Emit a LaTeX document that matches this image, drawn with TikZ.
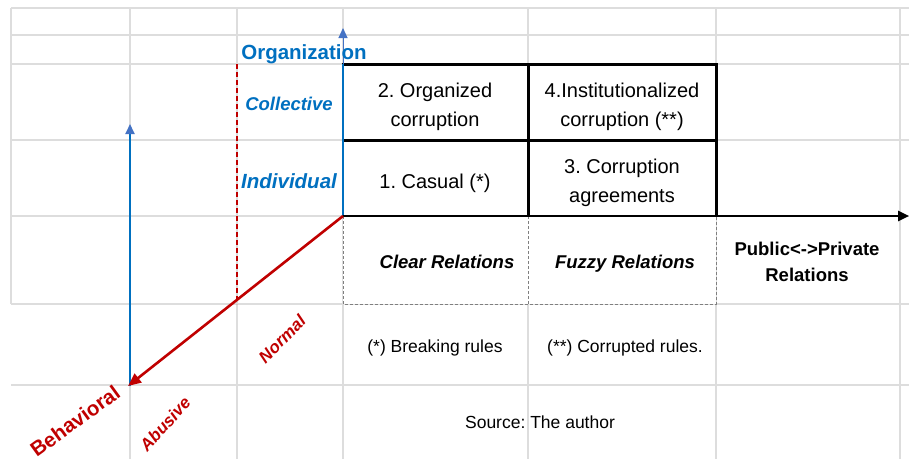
\documentclass[tikz,border=0pt]{standalone}
\usepackage{fontspec}
\setmainfont{Liberation Sans}
\usetikzlibrary{arrows.meta}
\frenchspacing
\definecolor{xblue}{HTML}{0070C0}
\definecolor{xlblue}{HTML}{4472C4}
\definecolor{xred}{HTML}{C00000}
\definecolor{xgrid}{HTML}{DDDDDD}
\definecolor{xdash}{HTML}{7F7F7F}
\tikzset{
  gridline/.style={draw=xgrid, line width=1.2pt},
  dashbox/.style={draw=xdash, dashed, dash pattern=on 3pt off 2pt, line width=0.9pt},
  tabline/.style={draw=black, line width=3pt},
  celltext/.style={inner sep=0pt, anchor=base, align=center, font=\fontsize{20}{29}\selectfont},
  foot/.style={inner sep=0pt, anchor=base, align=center, font=\fontsize{17.5}{21}\selectfont},
  relbold/.style={inner sep=0pt, anchor=base, align=center, font=\fontsize{18.5}{26}\selectfont\bfseries\itshape},
  bluelab/.style={inner sep=0pt, anchor=base, text=xblue},
  redlab/.style={inner sep=0pt, text=xred, font=\fontsize{17}{20}\selectfont\bfseries\itshape},
}
\begin{document}
\begin{tikzpicture}[x=1pt,y=-1pt]
\useasboundingbox (0,0) rectangle (909,459);
\fill[white] (0,0) rectangle (909,459);
% spreadsheet grid
\foreach \x in {130,237,343,528,716,900} \draw[gridline] (\x,8) -- (\x,459);
\draw[gridline] (11,8) -- (11,304);
\foreach \y in {8,35,64,140,216,304,385} \draw[gridline] (11,\y) -- (909,\y);
% dashed relation box
\draw[dashbox, fill=white] (343,216) rectangle (716,304);
\draw[dashbox] (528,216) -- (528,304);
% table
\fill[white] (343,64) rectangle (716,216);
\coordinate (O) at (343,216);
\coordinate (Otop) at (343,28);
\coordinate (Oright) at (909,216);
\coordinate (B) at (128,386);
\coordinate (Bup) at (130,386);
\coordinate (Btop) at (130,124);
\coordinate (Dtop) at (237,64);
\coordinate (Dbot) at (237,304);
\draw[tabline] (341.5,64) -- (717.5,64);
\draw[tabline] (343,140) -- (717.5,140);
\draw[tabline] (528,64) -- (528,216);
\draw[tabline] (716,64) -- (716,216);
\draw[draw=xlblue, line width=1pt, -{Triangle[length=10pt,width=9pt,fill=xlblue]}] (O) -- (Otop);
\draw[draw=xblue, line width=2.2pt] (343,64) -- (O);
\draw[draw=black, line width=2.6pt, -{Triangle[length=11pt,width=10pt]}] (O) -- (Oright);
% left axes
\draw[draw=xred, dashed, dash pattern=on 5pt off 3pt, line width=1.6pt] (Dtop) -- (Dbot);
\draw[draw=xblue, line width=2pt, -{Triangle[length=10pt,width=9pt,color=xlblue,fill=xlblue]}] (Bup) -- (Btop);
\draw[draw=xred, line width=2.6pt, -{Triangle[length=13pt,width=11pt]}] (O) -- (B);
% labels
\node[bluelab, font=\fontsize{20.5}{24}\selectfont\bfseries] (org) at (304,59) {Organization};
\node[bluelab, font=\fontsize{18.5}{22}\selectfont\bfseries\itshape] (coll) at (289,110) {Collective};
\node[bluelab, font=\fontsize{20.5}{24}\selectfont\bfseries\itshape] (indiv) at (289,188) {Individual};
\node[celltext] (c2) at (435,126) {2. Organized\\corruption};
\node[celltext] (c4) at (622,126) {4.Institutionalized\\corruption (**)};
\node[celltext] (c1) at (435,188) {1. Casual (*)};
\node[celltext] (c3) at (622,202) {3. Corruption\\agreements};
\node[relbold] (clear) at (447,268) {Clear Relations};
\node[relbold] (fuzzy) at (625,268) {Fuzzy Relations};
\node[inner sep=0pt, anchor=base, align=center, font=\fontsize{18.5}{26}\selectfont\bfseries] (pubpriv) at (807,281) {Public<->Private\\Relations};
\node[foot] (f1) at (435,352) {(*) Breaking rules};
\node[foot] (f2) at (625,352) {(**) Corrupted rules.};
\node[foot] (src) at (540,428) {Source: The author};
\node[inner sep=0pt, text=xred, font=\fontsize{20.5}{24}\selectfont\bfseries, rotate=36] (beh) at (75,421) {Behavioral};
\node[redlab, rotate=48] (abu) at (165,424) {Abusive};
\node[redlab, rotate=45] (nor) at (282,339) {Normal};
\end{tikzpicture}
\end{document}
